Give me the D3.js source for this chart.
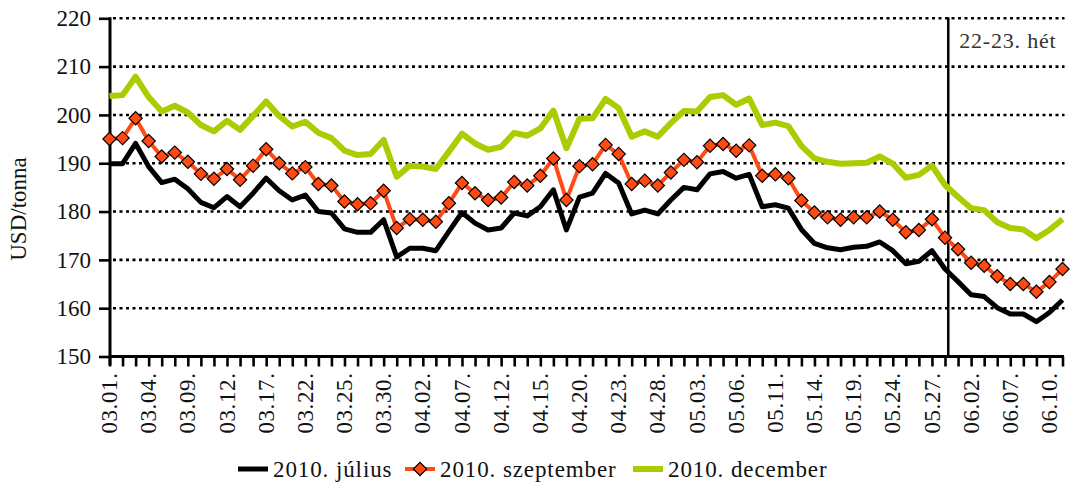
<!DOCTYPE html>
<html><head><meta charset="utf-8">
<script src="https://cdn.jsdelivr.net/npm/d3@7"></script>
<style>html,body{margin:0;padding:0;background:#fff;}svg{display:block;}</style>
</head><body>
<svg id="c" width="1070" height="484"></svg>
<script>
const dates = ["03.01.","03.02.","03.03.","03.04.","03.05.","03.08.","03.09.","03.10.","03.11.","03.12.","03.15.","03.16.","03.17.","03.18.","03.19.","03.22.","03.23.","03.24.","03.25.","03.26.","03.29.","03.30.","03.31.",
"04.01.","04.02.","04.05.","04.06.","04.07.","04.08.","04.09.","04.12.","04.13.","04.14.","04.15.","04.16.","04.19.","04.20.","04.21.","04.22.","04.23.","04.26.","04.27.","04.28.","04.29.","04.30.",
"05.03.","05.04.","05.05.","05.06.","05.07.","05.10.","05.11.","05.12.","05.13.","05.14.","05.17.","05.18.","05.19.","05.20.","05.21.","05.24.","05.25.","05.26.","05.27.","05.28.",
"06.01.","06.02.","06.03.","06.04.","06.07.","06.08.","06.09.","06.10.","06.11."];
const july = [189.9,189.9,194.1,189.3,186.0,186.7,184.7,181.9,180.8,183.1,181.0,183.8,186.9,184.3,182.4,183.4,180.0,179.7,176.4,175.7,175.7,178.3,170.6,172.4,172.4,171.9,175.9,179.8,177.6,176.2,176.6,179.7,179.1,181.0,184.5,176.2,183.0,183.8,187.9,185.9,179.5,180.3,179.5,182.4,185.0,184.5,187.8,188.3,186.9,187.7,181.0,181.4,180.7,176.3,173.4,172.5,172.1,172.6,172.8,173.7,171.9,169.2,169.7,171.9,168.1,165.5,162.8,162.4,160.1,158.8,158.8,157.2,159.1,161.7];
const september = [195.0,195.2,199.3,194.6,191.4,192.2,190.3,187.8,186.8,188.8,186.6,189.5,192.9,190.0,187.9,189.2,185.7,185.4,182.1,181.5,181.7,184.3,176.6,178.4,178.3,177.9,181.7,185.9,183.8,182.4,182.9,186.1,185.4,187.4,191.0,182.4,189.4,189.8,193.8,191.9,185.7,186.4,185.4,188.1,190.7,190.2,193.6,194.0,192.6,193.7,187.4,187.7,186.9,182.3,179.8,178.8,178.3,178.8,178.8,180.0,178.3,175.7,176.2,178.4,174.6,172.2,169.4,168.8,166.6,165.0,165.0,163.4,165.4,168.1];
const december = [203.9,204.1,207.9,203.7,200.7,201.9,200.5,197.9,196.6,198.8,196.9,199.8,202.8,199.8,197.6,198.6,196.3,195.2,192.6,191.7,191.9,194.8,187.2,189.5,189.3,188.8,192.4,196.1,194.1,192.8,193.4,196.3,195.7,197.2,200.9,193.1,199.2,199.3,203.3,201.4,195.5,196.6,195.5,198.3,200.8,200.7,203.7,204.1,202.1,203.4,197.9,198.4,197.7,193.6,191.0,190.3,189.9,190.0,190.1,191.4,189.9,187.0,187.6,189.5,185.5,183.0,180.7,180.3,177.8,176.6,176.3,174.5,176.2,178.4];
const yTicks = [150,160,170,180,190,200,210,220];
const seriesNames = ["2010. július","2010. szeptember","2010. december"];
const weekMarkIndex = 64.25;
const weekLabel = "22-23. hét";
const yTitle = "USD/tonna";

const FONT = "'Liberation Serif','Times New Roman',serif";
const svg = d3.select("#c");
const L = 110, R = 1062.5, T = 18.3, B = 356.5;
const x = d3.scaleLinear().domain([0, dates.length - 1]).range([109.5, R]);
const y = d3.scaleLinear().domain([150, 220]).range([B, T]);

// gridlines
svg.append("g").selectAll("line").data(yTicks.filter(v => v > 150)).join("line")
  .attr("x1", L + 3).attr("x2", R + 2).attr("y1", d => y(d)).attr("y2", d => y(d))
  .attr("stroke", "#000").attr("stroke-width", 2.6).attr("stroke-dasharray", "3,3.5");

// y axis
const ya = svg.append("g").attr("transform", `translate(${L},0)`)
  .call(d3.axisLeft(y).tickValues(yTicks).tickSize(11).tickPadding(8).tickFormat(d3.format("d")));
ya.select(".domain").remove();
ya.selectAll(".tick line").attr("stroke", "#000").attr("stroke-width", 2.6);
ya.selectAll(".tick text").attr("font-family", FONT).attr("font-size", 23).attr("fill", "#111");
svg.append("line").attr("x1", L).attr("x2", L).attr("y1", T - 1).attr("y2", B + 9)
  .attr("stroke", "#000").attr("stroke-width", 3);

// x axis
const xa = svg.append("g").attr("transform", `translate(0,${B})`)
  .call(d3.axisBottom(x).tickValues(d3.range(dates.length)).tickSize(10).tickFormat(""));
xa.select(".domain").remove();
xa.selectAll(".tick line").attr("stroke", "#000").attr("stroke-width", 2.6);
svg.append("line").attr("x1", L).attr("x2", R + 1.5).attr("y1", B).attr("y2", B)
  .attr("stroke", "#000").attr("stroke-width", 3);
svg.append("g").selectAll("text").data(d3.range(0, dates.length, 3)).join("text")
  .attr("transform", d => `translate(${x(d)},${B + 16}) rotate(-90)`)
  .attr("text-anchor", "end").attr("dy", "0.33em")
  .attr("font-family", FONT).attr("font-size", 23).attr("letter-spacing", 0.6).attr("fill", "#111")
  .text(d => dates[d]);

// y title
svg.append("text").attr("transform", `translate(26,209) rotate(-90)`)
  .attr("text-anchor", "middle").attr("font-family", FONT).attr("font-size", 23).attr("fill", "#111")
  .text(yTitle);

// week marker
svg.append("line").attr("x1", x(weekMarkIndex)).attr("x2", x(weekMarkIndex)).attr("y1", T - 1).attr("y2", B)
  .attr("stroke", "#000").attr("stroke-width", 2.5);
svg.append("text").attr("x", x(weekMarkIndex) + 11).attr("y", 48)
  .attr("font-family", FONT).attr("font-size", 22).attr("letter-spacing", 0.8).attr("fill", "#333").text(weekLabel);

// series
const line = d3.line().x((d, i) => x(i)).y(d => y(d));
const ORANGE = "#FF4A14", GREEN = "#AACC00";
svg.append("path").datum(december).attr("d", line).attr("fill", "none")
  .attr("stroke", GREEN).attr("stroke-width", 6).attr("stroke-linejoin", "round");
svg.append("path").datum(july).attr("d", line).attr("fill", "none")
  .attr("stroke", "#000").attr("stroke-width", 5).attr("stroke-linejoin", "round");
svg.append("path").datum(september).attr("d", line).attr("fill", "none")
  .attr("stroke", ORANGE).attr("stroke-width", 4).attr("stroke-linejoin", "round");
const diamond = d3.symbol(d3.symbolSquare, 88);
svg.append("g").selectAll("path").data(september).join("path")
  .attr("d", diamond).attr("transform", (d, i) => `translate(${x(i)},${y(d)}) rotate(45)`)
  .attr("fill", ORANGE).attr("stroke", "#000").attr("stroke-width", 1.2);

// legend
const legY = 469;
const leg = [
  {name: seriesNames[0], color: "#000", w: 5, marker: false, x0: 238},
  {name: seriesNames[1], color: ORANGE, w: 4, marker: true, x0: 405},
  {name: seriesNames[2], color: GREEN, w: 6, marker: false, x0: 633}
];
leg.forEach(l => {
  svg.append("line").attr("x1", l.x0).attr("x2", l.x0 + 30).attr("y1", legY).attr("y2", legY)
    .attr("stroke", l.color).attr("stroke-width", l.w);
  if (l.marker) svg.append("path").attr("d", diamond)
    .attr("transform", `translate(${l.x0 + 15},${legY}) rotate(45)`)
    .attr("fill", ORANGE).attr("stroke", "#000").attr("stroke-width", 1.2);
  svg.append("text").attr("x", l.x0 + 35).attr("y", legY).attr("dy", "0.35em")
    .attr("font-family", FONT).attr("font-size", 23).attr("letter-spacing", 0.9).attr("fill", "#111").text(l.name);
});
</script>
</body></html>
